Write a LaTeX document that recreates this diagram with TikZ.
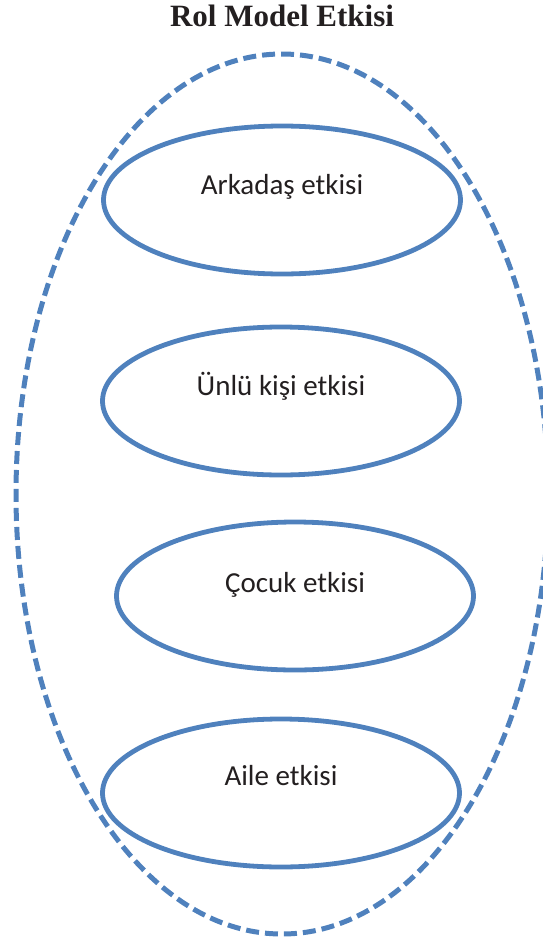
\documentclass[tikz,border=0pt]{standalone}
\usepackage{fontspec}
\setmainfont{Carlito}
\newfontfamily\titlefont{Liberation Serif}
\usepackage{xcolor}
\usepackage{tikz}
\usetikzlibrary{shapes.geometric}

\definecolor{rolblue}{RGB}{79,129,189}
\definecolor{inkgray}{RGB}{35,31,32}

\begin{document}
\begin{tikzpicture}[x=1pt,y=-1pt,
    oval/.style={ellipse,draw=rolblue,line width=4.8pt,inner sep=0pt,
        minimum width=357pt,minimum height=148pt},
    lbl/.style={anchor=base,inner sep=0pt,text=inkgray,
        font=\fontsize{29}{34}\selectfont}]
    \useasboundingbox (0,0) rectangle (543,945);
    \node[anchor=base,inner sep=0pt,text=inkgray,
        font=\titlefont\bfseries\fontsize{31}{36}\selectfont] (title) at (282,26) {Rol Model Etkisi};
    % outer dashed border
    \node[ellipse,draw=rolblue,line width=5pt,dash pattern=on 13pt off 6pt,
        minimum width=532pt,minimum height=880pt] (rol) at (282,494) {};
    \node[oval] (arkadas) at (282,200) {};
    \node[oval] (unlu) at (281,401) {};
    \node[oval] (cocuk) at (295,596) {};
    \node[oval] (aile) at (281,793) {};
    \node[lbl] (t1) at ([yshift=6pt]arkadas.center) {Arkadaş etkisi};
    \node[lbl] (t2) at ([yshift=6pt]unlu.center) {Ünlü kişi etkisi};
    \node[lbl] (t3) at ([yshift=4pt]cocuk.center) {Çocuk etkisi};
    \node[lbl] (t4) at ([yshift=8pt]aile.center) {Aile etkisi};
\end{tikzpicture}
\end{document}
